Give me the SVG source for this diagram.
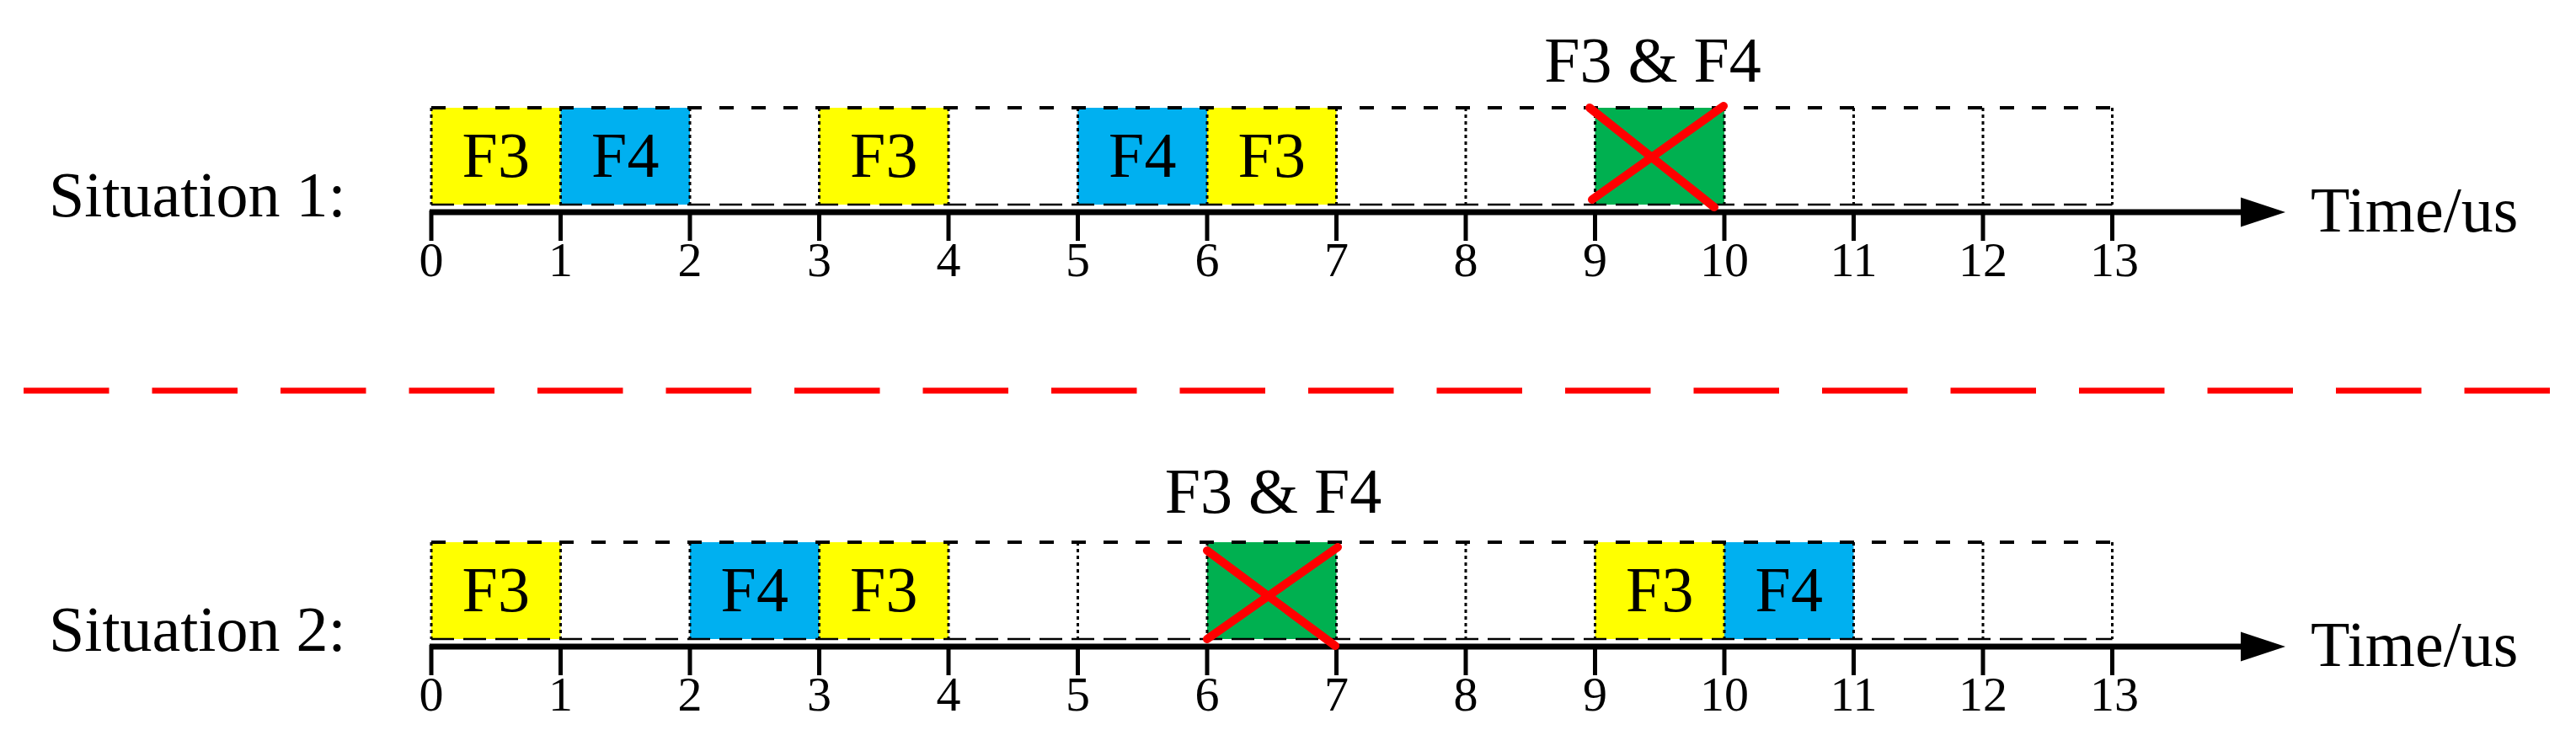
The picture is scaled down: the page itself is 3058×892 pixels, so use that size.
<svg xmlns="http://www.w3.org/2000/svg" width="3058" height="892" viewBox="0 0 3058 892">
<style>
text{font-family:"Liberation Serif","Times New Roman",serif;fill:#000}
.lbl{font-size:76px}
.box{font-size:76px;text-anchor:middle}
.tick{font-size:58px;text-anchor:middle}
.top{stroke:#000;stroke-width:4;stroke-dasharray:17 21;fill:none}
.bot{stroke:#000;stroke-width:2.5;stroke-dasharray:27 11;fill:none}
.vdot{stroke:#000;stroke-width:3;stroke-dasharray:4 4;fill:none}
.axis{stroke:#000;stroke-width:7;fill:none}
.tk{stroke:#000;stroke-width:5}
.y{fill:#FFFF00}
.b{fill:#00B0F0}
.g{fill:#00B050}
.x{stroke:#FF0000;stroke-width:10;stroke-linecap:round}
</style>
<defs>
<g id="grid">
<line class="vdot" x1="512" y1="128" x2="512" y2="243"/>
<line class="vdot" x1="665.5" y1="128" x2="665.5" y2="243"/>
<line class="vdot" x1="819" y1="128" x2="819" y2="243"/>
<line class="vdot" x1="972.5" y1="128" x2="972.5" y2="243"/>
<line class="vdot" x1="1126" y1="128" x2="1126" y2="243"/>
<line class="vdot" x1="1279.5" y1="128" x2="1279.5" y2="243"/>
<line class="vdot" x1="1433" y1="128" x2="1433" y2="243"/>
<line class="vdot" x1="1586.5" y1="128" x2="1586.5" y2="243"/>
<line class="vdot" x1="1740" y1="128" x2="1740" y2="243"/>
<line class="vdot" x1="1893.5" y1="128" x2="1893.5" y2="243"/>
<line class="vdot" x1="2047" y1="128" x2="2047" y2="243"/>
<line class="vdot" x1="2200.5" y1="128" x2="2200.5" y2="243"/>
<line class="vdot" x1="2354" y1="128" x2="2354" y2="243"/>
<line class="vdot" x1="2507.5" y1="128" x2="2507.5" y2="243"/>
<line class="top" x1="512" y1="128" x2="2507.5" y2="128"/>
<line class="bot" x1="512" y1="243" x2="2507.5" y2="243"/>
</g>
<g id="axis">
<line class="axis" x1="510" y1="252" x2="2665" y2="252"/>
<polygon points="2660,234.5 2713,252 2660,269.5" fill="#000"/>
<line class="tk" x1="512" y1="250" x2="512" y2="286"/>
<line class="tk" x1="665.5" y1="250" x2="665.5" y2="286"/>
<line class="tk" x1="819" y1="250" x2="819" y2="286"/>
<line class="tk" x1="972.5" y1="250" x2="972.5" y2="286"/>
<line class="tk" x1="1126" y1="250" x2="1126" y2="286"/>
<line class="tk" x1="1279.5" y1="250" x2="1279.5" y2="286"/>
<line class="tk" x1="1433" y1="250" x2="1433" y2="286"/>
<line class="tk" x1="1586.5" y1="250" x2="1586.5" y2="286"/>
<line class="tk" x1="1740" y1="250" x2="1740" y2="286"/>
<line class="tk" x1="1893.5" y1="250" x2="1893.5" y2="286"/>
<line class="tk" x1="2047" y1="250" x2="2047" y2="286"/>
<line class="tk" x1="2200.5" y1="250" x2="2200.5" y2="286"/>
<line class="tk" x1="2354" y1="250" x2="2354" y2="286"/>
<line class="tk" x1="2507.5" y1="250" x2="2507.5" y2="286"/>
<text class="tick" x="512" y="328">0</text>
<text class="tick" x="665.5" y="328">1</text>
<text class="tick" x="819" y="328">2</text>
<text class="tick" x="972.5" y="328">3</text>
<text class="tick" x="1126" y="328">4</text>
<text class="tick" x="1279.5" y="328">5</text>
<text class="tick" x="1433" y="328">6</text>
<text class="tick" x="1586.5" y="328">7</text>
<text class="tick" x="1740" y="328">8</text>
<text class="tick" x="1893.5" y="328">9</text>
<text class="tick" x="2047" y="328">10</text>
<text class="tick" x="2200.5" y="328">11</text>
<text class="tick" x="2354" y="328">12</text>
<text class="tick" x="2510" y="328">13</text>
<text class="lbl" x="2743" y="275">Time/us</text>
</g>
</defs>

<g id="situation1">
<text id="label1" class="lbl" x="58" y="257">Situation 1:</text>
<g id="s1-boxes">
<g id="s1-f3a"><rect class="y" x="512" y="128" width="153.5" height="115"/><text class="box" x="588.75" y="210">F3</text></g>
<g id="s1-f4a"><rect class="b" x="665.5" y="128" width="153.5" height="115"/><text class="box" x="742.25" y="210">F4</text></g>
<g id="s1-f3b"><rect class="y" x="972.5" y="128" width="153.5" height="115"/><text class="box" x="1049.25" y="210">F3</text></g>
<g id="s1-f4b"><rect class="b" x="1279.5" y="128" width="153.5" height="115"/><text class="box" x="1356.25" y="210">F4</text></g>
<g id="s1-f3c"><rect class="y" x="1433" y="128" width="153.5" height="115"/><text class="box" x="1509.75" y="210">F3</text></g>
<g id="s1-collision"><rect class="g" x="1893.5" y="128" width="153.5" height="115"/></g>
</g>
<use href="#grid"/>
<use href="#axis"/>
<g id="s1-cross">
<line class="x" x1="1887" y1="128" x2="2035" y2="246"/>
<line class="x" x1="1890" y1="237" x2="2046" y2="126"/>
</g>
<text id="s1-collide-label" class="lbl" x="1962" y="97" text-anchor="middle">F3 &amp; F4</text>
</g>

<g id="divider">
<line x1="28" y1="464" x2="3028" y2="464" stroke="#FF0000" stroke-width="7" stroke-dasharray="101.5 51"/>
</g>

<g id="situation2" transform="translate(0,516)">
<text id="label2" class="lbl" x="58" y="257">Situation 2:</text>
<g id="s2-boxes">
<g id="s2-f3a"><rect class="y" x="512" y="128" width="153.5" height="115"/><text class="box" x="588.75" y="210">F3</text></g>
<g id="s2-f4a"><rect class="b" x="819" y="128" width="153.5" height="115"/><text class="box" x="895.75" y="210">F4</text></g>
<g id="s2-f3b"><rect class="y" x="972.5" y="128" width="153.5" height="115"/><text class="box" x="1049.25" y="210">F3</text></g>
<g id="s2-collision"><rect class="g" x="1433" y="128" width="153.5" height="115"/></g>
<g id="s2-f3c"><rect class="y" x="1893.5" y="128" width="153.5" height="115"/><text class="box" x="1970.25" y="210">F3</text></g>
<g id="s2-f4b"><rect class="b" x="2047" y="128" width="153.5" height="115"/><text class="box" x="2123.75" y="210">F4</text></g>
</g>
<use href="#grid"/>
<use href="#axis"/>
<g id="s2-cross">
<line class="x" x1="1433" y1="138" x2="1585" y2="251"/>
<line class="x" x1="1433" y1="243" x2="1588" y2="134"/>
</g>
<text id="s2-collide-label" class="lbl" x="1511.5" y="93" text-anchor="middle">F3 &amp; F4</text>
</g>
</svg>
